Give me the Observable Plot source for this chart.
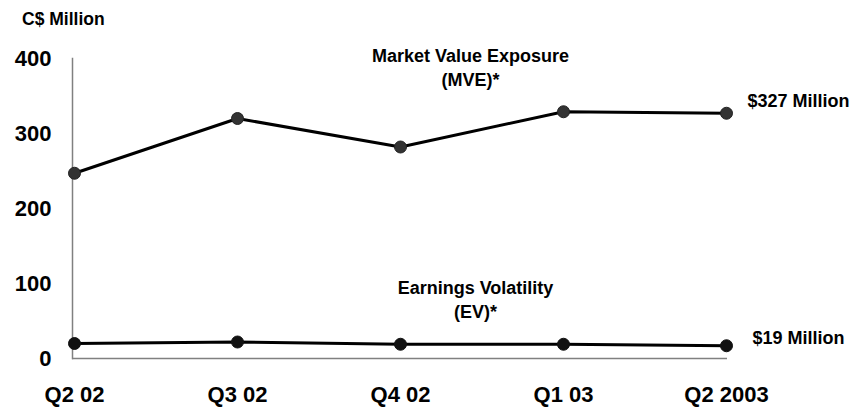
<!DOCTYPE html>
<html>
<head>
<meta charset="utf-8">
<script src="https://cdn.jsdelivr.net/npm/d3@7"></script>
<script src="https://cdn.jsdelivr.net/npm/@observablehq/plot@0.6"></script>
<style>
  html, body { margin: 0; padding: 0; background: #fff; }
  #chart { position: relative; width: 856px; height: 411px; }
  #ylabel { position: absolute; left: 22px; top: 9px; font: bold 17.5px "Liberation Sans", Arial, sans-serif; color: #000; }
  svg { font-family: "Liberation Sans", Arial, sans-serif; }
</style>
</head>
<body>
<div id="chart"><div id="ylabel">C$ Million</div></div>
<script>
const quarters = ["Q2 02", "Q3 02", "Q4 02", "Q1 03", "Q2 2003"];
const mveValues = [247, 320, 282, 329, 327];
const evValues = [20, 22, 19, 19, 17];
const yTicks = [0, 100, 200, 300, 400];
const mveLabel = "Market Value Exposure\n(MVE)*";
const evLabel = "Earnings Volatility\n(EV)*";
const mveEndLabel = "$327 Million";
const evEndLabel = "$19 Million";

const mve = quarters.map((q, i) => ({q, v: mveValues[i]}));
const ev = quarters.map((q, i) => ({q, v: evValues[i]}));

const chart = Plot.plot({
  width: 856,
  height: 411,
  marginLeft: 72,
  marginRight: 129,
  marginTop: 58,
  marginBottom: 53,
  style: {background: "white", fontFamily: "'Liberation Sans', Arial, sans-serif"},
  x: {type: "point", domain: quarters, padding: 0},
  y: {domain: [0, 400]},
  marks: [
    Plot.frame({anchor: "left", stroke: "#808080", strokeWidth: 1.5}),
    Plot.ruleY([0], {stroke: "#808080", strokeWidth: 1.5}),
    Plot.axisY({ticks: yTicks, tickSize: 0, tickPadding: 21, fontSize: 22, fontWeight: "bold", fill: "#000", label: null}),
    Plot.axisX({tickSize: 0, tickPadding: 28, fontSize: 22, fontWeight: "bold", fill: "#000", label: null}),
    Plot.line(mve, {x: "q", y: "v", stroke: "#000", strokeWidth: 3}),
    Plot.line(ev, {x: "q", y: "v", stroke: "#000", strokeWidth: 3}),
    Plot.dot(mve, {x: "q", y: "v", r: 6, fill: "#333", stroke: "#222", strokeWidth: 1}),
    Plot.dot(ev, {x: "q", y: "v", r: 6, fill: "#111", stroke: "#111", strokeWidth: 1}),
    Plot.text([mve[mve.length - 1]], {x: "q", y: "v", text: () => mveEndLabel, textAnchor: "start", dx: 21, dy: -12, fontSize: 18, fontWeight: "bold", fill: "#000"}),
    Plot.text([ev[ev.length - 1]], {x: "q", y: "v", text: () => evEndLabel, textAnchor: "start", dx: 26, dy: -8, fontSize: 18, fontWeight: "bold", fill: "#000"}),
    Plot.text([{q: quarters[2], v: 400}], {x: "q", y: "v", text: () => mveLabel, dx: 70, dy: 8, lineAnchor: "middle", lineHeight: 1.33, fontSize: 18, fontWeight: "bold", fill: "#000"}),
    Plot.text([{q: quarters[2], v: 100}], {x: "q", y: "v", text: () => evLabel, dx: 75, dy: 15, lineAnchor: "middle", lineHeight: 1.33, fontSize: 18, fontWeight: "bold", fill: "#000"})
  ]
});
chart.style.position = "absolute";
chart.style.left = "0";
chart.style.top = "0";
document.getElementById("chart").insertBefore(chart, document.getElementById("ylabel"));
</script>
</body>
</html>
